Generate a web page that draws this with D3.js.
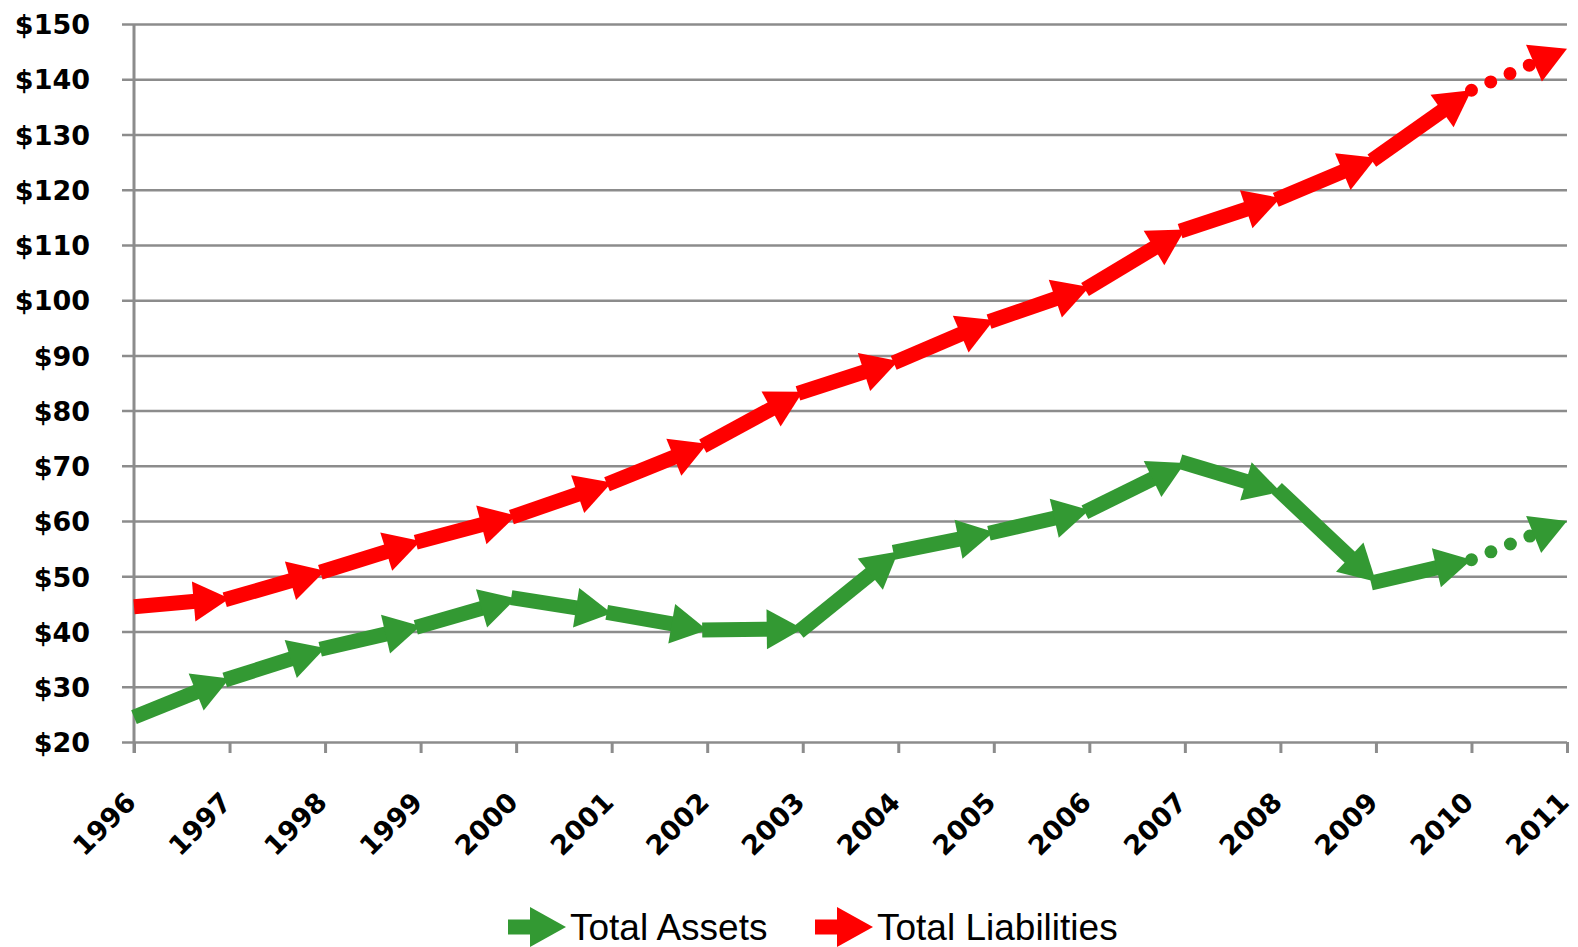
<!DOCTYPE html>
<html>
<head>
<meta charset="utf-8">
<script src="https://cdn.jsdelivr.net/npm/d3@7"></script>
<style>
  body { margin: 0; background: #fff; }
  svg { display: block; }
</style>
</head>
<body>
<script>
var years = [1996, 1997, 1998, 1999, 2000, 2001, 2002, 2003, 2004, 2005, 2006, 2007, 2008, 2009, 2010, 2011];
var assets = [24.5, 31.5, 37, 41, 46, 43.3, 40.3, 40.5, 54.5, 58, 62, 70.5, 65.3, 49, 53, 60];
var liabilities = [44.5, 46, 51, 56.4, 61, 67, 74, 83.4, 89, 96.4, 102.4, 112.8, 118.5, 125.8, 138, 145.5];
var yTicks = [20, 30, 40, 50, 60, 70, 80, 90, 100, 110, 120, 130, 140, 150];
var seriesNames = ["Total Assets", "Total Liabilities"];
var seriesColors = ["#339933", "#ff0000"];

var W = 1578, H = 947;
var plotLeft = 134, plotRight = 1567, plotTop = 24, plotBottom = 742;
var gridStart = 122, labelRight = 90;

var svg = d3.select("body").append("svg")
    .attr("width", W)
    .attr("height", H);

var x = d3.scaleLinear().domain([1996, 2011]).range([plotLeft, plotRight]);
var y = d3.scaleLinear().domain([20, 150]).range([plotBottom, plotTop]);

// gridlines + y labels (axis placed at the right edge, ticks run left)
var yAxis = svg.append("g")
    .attr("transform", "translate(" + plotRight + ",0)")
    .call(d3.axisLeft(y)
        .tickValues(yTicks)
        .tickSize(plotRight - gridStart)
        .tickFormat(function (d) { return "$" + d; }));
yAxis.select(".domain").remove();
yAxis.selectAll(".tick line")
    .attr("stroke", "#8c8c8c")
    .attr("stroke-width", 2.5);
yAxis.selectAll(".tick text")
    .attr("x", -(plotRight - labelRight))
    .attr("dy", "0.36em")
    .attr("fill", "#000")
    .style("font-family", "'DejaVu Sans', sans-serif")
    .style("font-weight", "bold")
    .style("font-size", "27px");

// y axis line
svg.append("line")
    .attr("x1", plotLeft).attr("x2", plotLeft)
    .attr("y1", plotTop).attr("y2", plotBottom + 11)
    .attr("stroke", "#8c8c8c")
    .attr("stroke-width", 3);

// x axis
var xAxis = svg.append("g")
    .attr("transform", "translate(0," + plotBottom + ")")
    .call(d3.axisBottom(x)
        .tickValues(years)
        .tickSize(11)
        .tickFormat(d3.format("d")));
xAxis.select(".domain").remove();
xAxis.selectAll(".tick line")
    .attr("stroke", "#8c8c8c")
    .attr("stroke-width", 3);
xAxis.selectAll(".tick text")
    .attr("y", 0)
    .attr("dy", 0)
    .attr("text-anchor", "end")
    .attr("transform", "translate(3,62) rotate(-45)")
    .attr("fill", "#000")
    .style("font-family", "'DejaVu Sans', sans-serif")
    .style("font-weight", "bold")
    .style("font-size", "27px");

var LW = 15, AL = 36, AW = 20;

function arrowParts(x0, y0, x1, y1, back) {
    var dx = x1 - x0, dy = y1 - y0;
    var len = Math.sqrt(dx * dx + dy * dy);
    var ux = dx / len, uy = dy / len;
    var nx = -uy, ny = ux;
    var bx = x1 - ux * AL, by = y1 - uy * AL;
    return {
        line: [[x0 - ux * back, y0 - uy * back], [bx + ux * 2, by + uy * 2]],
        head: [[x1, y1], [bx + nx * AW, by + ny * AW], [bx - nx * AW, by - ny * AW]]
    };
}

function drawSeries(values, color) {
    var g = svg.append("g");
    for (var i = 0; i < values.length - 1; i++) {
        var dotted = (i === values.length - 2);
        var p = arrowParts(x(years[i]), y(values[i]), x(years[i + 1]), y(values[i + 1]),
            (i === 0 || dotted) ? 0 : 5);
        var ln = g.append("line")
            .attr("x1", p.line[0][0]).attr("y1", p.line[0][1])
            .attr("x2", p.line[1][0]).attr("y2", p.line[1][1])
            .attr("stroke", color);
        if (dotted) {
            ln.attr("stroke-width", 13)
                .attr("stroke-linecap", "round")
                .attr("stroke-dasharray", "0 21");
        } else {
            ln.attr("stroke-width", LW);
        }
        g.append("polygon")
            .attr("points", p.head.map(function (d) { return d.join(","); }).join(" "))
            .attr("fill", color);
    }
}

drawSeries(assets, seriesColors[0]);
drawSeries(liabilities, seriesColors[1]);

// legend
var legendX = [508, 815];
seriesNames.forEach(function (name, i) {
    var lx = legendX[i], ly = 927;
    var p = arrowParts(lx, ly, lx + 58, ly, 0);
    svg.append("line")
        .attr("x1", p.line[0][0]).attr("y1", ly)
        .attr("x2", p.line[1][0]).attr("y2", ly)
        .attr("stroke", seriesColors[i])
        .attr("stroke-width", LW);
    svg.append("polygon")
        .attr("points", p.head.map(function (d) { return d.join(","); }).join(" "))
        .attr("fill", seriesColors[i]);
    svg.append("text")
        .attr("x", lx + 62)
        .attr("y", ly + 13)
        .attr("fill", "#000")
        .style("font-family", "'Liberation Sans', sans-serif")
        .style("font-size", "37px")
        .text(name);
});
</script>
</body>
</html>
